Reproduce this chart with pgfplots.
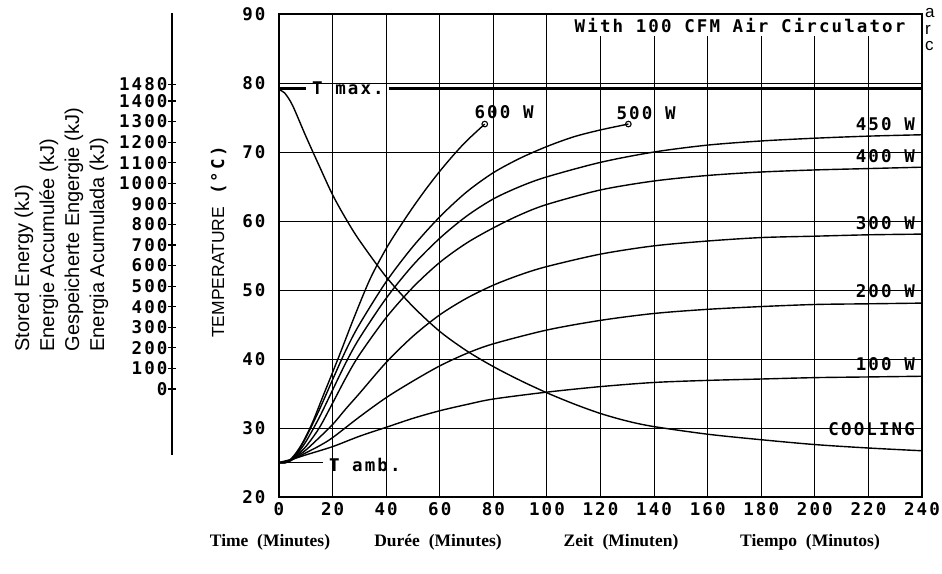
\documentclass[border=0pt]{standalone}
\usepackage{pgfplots}
\pgfplotsset{compat=1.18}
\usepackage{fontspec}
\setmainfont{Liberation Sans}
\newfontfamily\plotfont{DejaVu Sans Mono}[LetterSpace=12]
\newfontfamily\timesfont{Liberation Serif}
\newcommand\pf{\plotfont\bfseries\fontsize{17.5}{17.5}\selectfont}

\begin{document}
\begin{tikzpicture}
\useasboundingbox (0,0) rectangle (942pt,573pt);

% stored energy scale
\begin{axis}[
  at={(172pt,118pt)}, anchor=south west, scale only axis,
  width=1pt, height=442pt,
  xmin=0, xmax=1, ymin=-320.8, ymax=1827.8,
  hide x axis, axis y line=left,
  y axis line style={line width=2.4pt, -},
  ytick={0,100,...,1400,1480},
  tick align=center, major tick length=8pt,
  tick style={line width=1.2pt, black},
  yticklabel style={font=\pf, xshift=3pt},
  /pgf/number format/assume math mode=true,
  /pgf/number format/1000 sep={},
]
\end{axis}

% temperature chart
\begin{axis}[
  at={(279pt,76pt)}, anchor=south west, scale only axis,
  width=643pt, height=483pt,
  xmin=0, xmax=240, ymin=20, ymax=90,
  xtick={0,20,...,240}, ytick={20,30,...,90},
  grid=major, grid style={black, line width=1pt},
  axis line style={line width=2.6pt},
  major tick length=0pt,
  tick label style={font=\pf},
  xticklabel style={yshift=-2pt},
  yticklabel style={xshift=-10pt},
  /pgf/number format/assume math mode=true,
  clip=false,
]
% T max / T amb
\addplot[line width=2.4pt] coordinates {(0,79.2) (10,79.2)};
\addplot[line width=2.4pt] coordinates {(41,79.2) (240,79.2)};
\addplot[line width=1.5pt] coordinates {(0,25) (16.5,25)};

% 100 W
\addplot[line width=1.4pt, smooth] coordinates {(0,25) (6,25.6) (10,26.1) (20,27.3) (30,28.8) (40,30.1) (50,31.4) (60,32.5) (70,33.4) (80,34.2) (100,35.2) (120,36) (140,36.6) (160,36.9) (180,37.1) (200,37.3) (220,37.4) (240,37.5)};
% 200 W
\addplot[line width=1.4pt, smooth] coordinates {(0,25) (3,25.05) (6,25.6) (10,26.4) (15,27.4) (20,28.6) (30,31.6) (40,34.4) (50,36.8) (60,39) (70,40.8) (80,42.2) (100,44.2) (120,45.6) (140,46.6) (160,47.2) (180,47.6) (200,47.9) (220,48) (240,48.1)};
% 300 W
\addplot[line width=1.4pt, smooth] coordinates {(0,25) (3,25.05) (6,25.7) (10,26.8) (15,28.6) (20,30.5) (25,32.8) (30,35) (40,39.5) (50,43.3) (60,46.4) (70,48.8) (80,50.7) (90,52.2) (100,53.4) (120,55.2) (140,56.4) (160,57.1) (180,57.6) (200,57.8) (220,58) (240,58.1)};
% 400 W
\addplot[line width=1.4pt, smooth] coordinates {(0,25) (3,25.05) (6,25.8) (10,27.3) (15,30) (20,33.6) (25,37.3) (30,40.6) (40,46) (50,50.4) (60,54) (70,56.8) (80,59) (90,60.9) (100,62.4) (120,64.5) (140,65.8) (160,66.6) (180,67.1) (200,67.4) (220,67.6) (240,67.8)};
% 450 W
\addplot[line width=1.4pt, smooth] coordinates {(0,25) (3,25.05) (6,25.9) (10,28) (15,31.5) (20,35.5) (25,39.5) (30,43) (40,48.8) (50,53.6) (60,57.5) (70,60.7) (80,63.2) (90,65) (100,66.4) (120,68.5) (140,70) (160,71) (180,71.6) (200,72) (220,72.3) (240,72.5)};
% 500 W
\addplot[line width=1.4pt, smooth] coordinates {(0,25) (3,25.05) (6,26) (10,28.6) (15,32.6) (20,37) (25,41.3) (30,45) (40,51.2) (50,56.3) (60,60.6) (70,64.2) (80,67) (90,69.1) (100,70.8) (110,72.2) (120,73.2) (130.4,74.05)};
% 600 W
\addplot[line width=1.4pt, smooth] coordinates {(0,25) (3,25.05) (6,26.2) (9,28) (12.5,30.8) (16,34.2) (22.5,40.5) (28,46) (34,51.6) (40,56) (45,59.1) (50,62) (55,64.7) (60,67.2) (65,69.5) (70,71.6) (76.8,74.05)};
% cooling
\addplot[line width=1.4pt, smooth] coordinates {(0,79) (2,78.6) (5,76.8) (10,72.3) (15,68) (20,63.8) (25,60.3) (30,57.2) (40,51.9) (50,47.6) (60,44) (70,41.2) (80,38.9) (90,36.9) (100,35.1) (110,33.5) (120,32.1) (130,31) (140,30.2) (160,29.1) (180,28.3) (200,27.6) (220,27.1) (240,26.7)};
\addplot[only marks, mark=o, mark size=2.8pt, mark options={line width=1.1pt, fill=white}] coordinates {(76.8,74.05) (130.4,74.05)};

\node[font=\pf, anchor=west, inner sep=0pt] at (axis cs:12.3,79.2) {T max.};
\node[font=\pf, anchor=west, inner sep=0pt] at (axis cs:18.6,24.6) {T amb.};
\node[font=\pf, anchor=center, inner sep=0pt] at (axis cs:84,75.8) {600 W};
\node[font=\pf, anchor=center, inner sep=0pt] at (axis cs:137,75.6) {500 W};
\node[font=\pf, anchor=east, inner sep=0pt] at (axis cs:237.4,74) {450 W};
\node[font=\pf, anchor=east, inner sep=0pt] at (axis cs:237.4,69.4) {400 W};
\node[font=\pf, anchor=east, inner sep=0pt] at (axis cs:237.4,59.7) {300 W};
\node[font=\pf, anchor=east, inner sep=0pt] at (axis cs:237.4,49.8) {200 W};
\node[font=\pf, anchor=east, inner sep=0pt] at (axis cs:237.4,39.3) {100 W};
\node[font=\pf, anchor=east, inner sep=0pt] at (axis cs:237.4,29.9) {COOLING};
\node[font=\pf, anchor=east, fill=white, inner xsep=3pt, inner ysep=3pt] at (axis cs:235,88.3) {With 100 CFM Air Circulator};
\end{axis}

% axis titles
\node[rotate=90, anchor=base west, font=\fontsize{20}{20}\selectfont] at (29pt,218pt) {Stored Energy (kJ)};
\node[rotate=90, anchor=base west, font=\fontsize{20}{20}\selectfont] at (54pt,218pt) {Energie Accumulée (kJ)};
\node[rotate=90, anchor=base west, font=\fontsize{20}{20}\selectfont] at (79pt,218pt) {Gespeicherte Engergie (kJ)};
\node[rotate=90, anchor=base west, font=\fontsize{20}{20}\selectfont] at (104pt,218pt) {Energia Acumulada (kJ)};
\node[rotate=90, anchor=base west, inner sep=0pt, font=\fontsize{17.5}{17.5}\selectfont] at (224pt,235pt) {TEMPERATURE\hspace{12pt}{\pf(°C)}};

\node[anchor=base, font=\timesfont\bfseries\fontsize{17.5}{17.5}\selectfont] at (270pt,27pt) {Time\ \ (Minutes)};
\node[anchor=base, font=\timesfont\bfseries\fontsize{17.5}{17.5}\selectfont] at (438pt,27pt) {Durée\ \ (Minutes)};
\node[anchor=base, font=\timesfont\bfseries\fontsize{17.5}{17.5}\selectfont] at (621pt,27pt) {Zeit\ \ (Minuten)};
\node[anchor=base, font=\timesfont\bfseries\fontsize{17.5}{17.5}\selectfont] at (810pt,27pt) {Tiempo\ \ (Minutos)};

\node[anchor=base west, inner sep=0pt, font=\fontsize{17}{17}\selectfont] at (925pt,555pt) {a};
\node[anchor=base west, inner sep=0pt, font=\fontsize{17}{17}\selectfont] at (925pt,538pt) {r};
\node[anchor=base west, inner sep=0pt, font=\fontsize{17}{17}\selectfont] at (925pt,522pt) {c};
\end{tikzpicture}
\end{document}
